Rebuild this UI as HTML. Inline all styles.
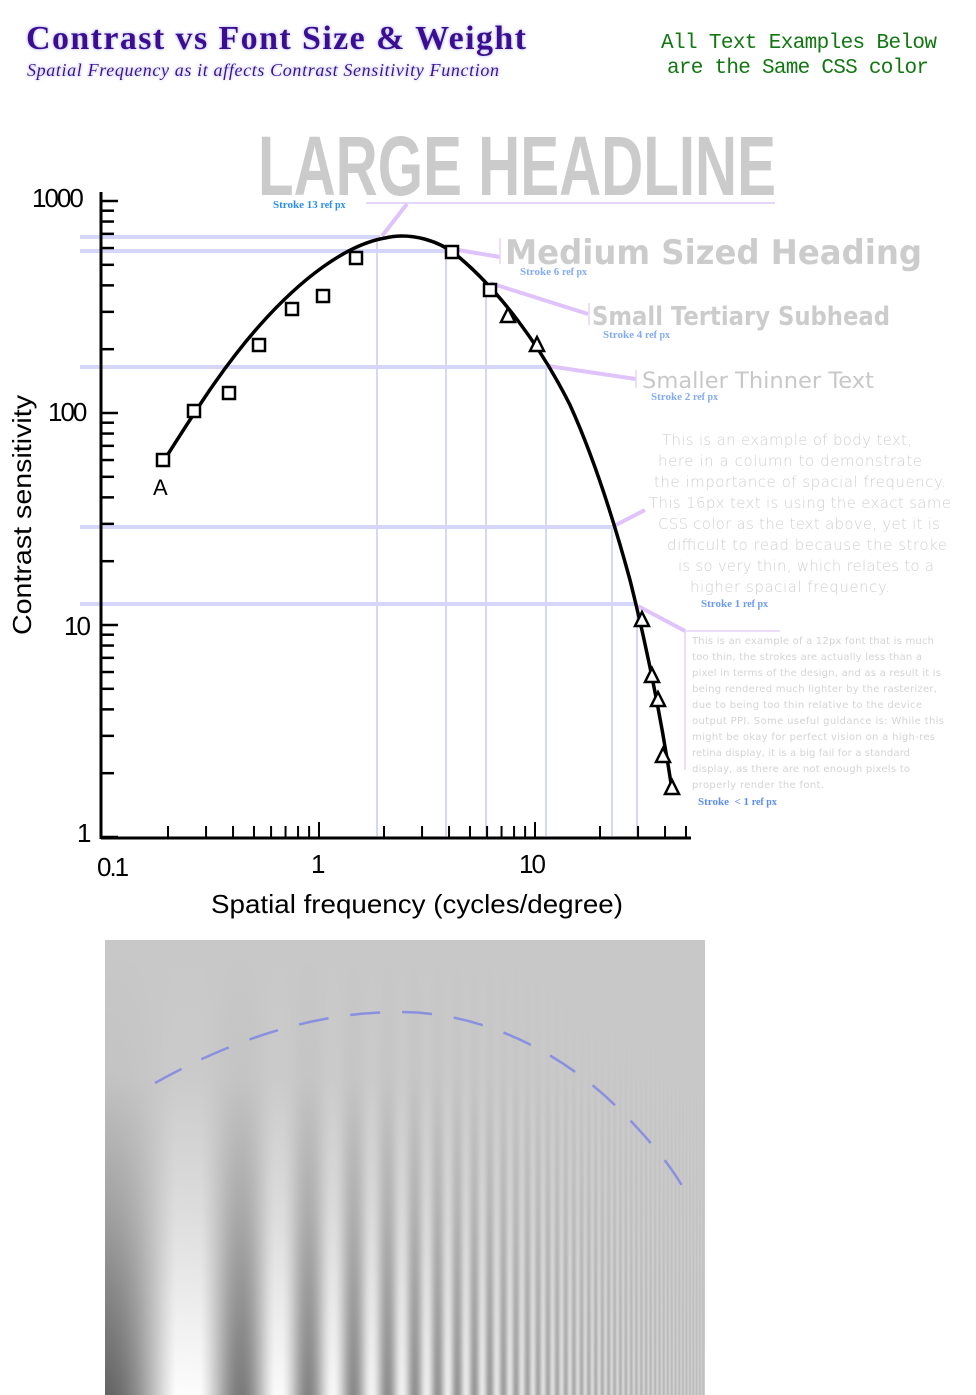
<!DOCTYPE html>
<html><head><meta charset="utf-8"><style>
html,body{margin:0;padding:0;background:#fff;}
body{width:976px;height:1395px;position:relative;overflow:hidden;font-family:"Liberation Sans",sans-serif;}
</style></head><body>
<svg id="s" width="976" height="1395" viewBox="0 0 976 1395" xmlns="http://www.w3.org/2000/svg" style="position:absolute;left:0;top:0">
<defs>
<filter id="sh" x="-5%" y="-20%" width="110%" height="160%"><feGaussianBlur in="SourceAlpha" stdDeviation="2"/><feOffset dx="2" dy="3"/><feFlood flood-color="#a8a8ff"/><feComposite operator="in" in2="SourceAlpha"/><feGaussianBlur stdDeviation="1.5"/><feMerge><feMergeNode/><feMergeNode in="SourceGraphic"/></feMerge></filter>
<linearGradient id="fade" x1="0" y1="0" x2="0" y2="1">
<stop offset="0" stop-color="#c8c8c8" stop-opacity="1"/>
<stop offset="0.3" stop-color="#c8c8c8" stop-opacity="0.95"/>
<stop offset="0.6" stop-color="#c8c8c8" stop-opacity="0.6"/>
<stop offset="1" stop-color="#c8c8c8" stop-opacity="0"/>
</linearGradient>
<linearGradient id="rfade" x1="0" y1="0" x2="1" y2="0">
<stop offset="0" stop-color="#c8c8c8" stop-opacity="0"/>
<stop offset="0.6" stop-color="#c8c8c8" stop-opacity="0.2"/>
<stop offset="1" stop-color="#c8c8c8" stop-opacity="0.75"/>
</linearGradient>
</defs>
<!-- header -->
<text x="26" y="49" font-family="Liberation Serif,serif" font-weight="bold" font-size="34" fill="#3d0a91" textLength="500" filter="url(#sh)">Contrast vs Font Size &amp; Weight</text>
<text x="27" y="76" font-family="Liberation Serif,serif" font-style="italic" font-size="18" fill="#3d0a91" textLength="472" filter="url(#sh)">Spatial Frequency as it affects Contrast Sensitivity Function</text>
<text x="661" y="48" font-family="Liberation Mono,monospace" font-size="21" fill="#117711" textLength="276">All Text Examples Below</text>
<text x="667" y="73" font-family="Liberation Mono,monospace" font-size="21" fill="#117711" textLength="262">are the Same CSS color</text>

<!-- gray headline -->
<text x="258" y="195" font-family="Liberation Sans Narrow,Liberation Sans,sans-serif" font-weight="bold" font-size="84" fill="#cbcbcb" textLength="518" lengthAdjust="spacingAndGlyphs">LARGE HEADLINE</text>
<line x1="366" y1="203" x2="775" y2="203" stroke="#dcc8f4" stroke-width="1.5"/>
<text x="273" y="208" font-family="Liberation Serif,serif" font-weight="bold" font-size="11" fill="#2a8cf0">Stroke 13 <tspan font-size="10">ref px</tspan></text>

<!-- lavender guide lines -->
<g stroke="#d6d6fa" stroke-width="4">
<line x1="80" y1="237" x2="380" y2="237"/>
<line x1="80" y1="251" x2="446" y2="251"/>
<line x1="80" y1="367" x2="548" y2="367"/>
<line x1="80" y1="527" x2="614" y2="527"/>
<line x1="80" y1="604" x2="638" y2="604"/>
</g>
<g stroke="#d6d6fa" stroke-width="2">
<line x1="377" y1="237" x2="377" y2="836"/>
<line x1="446" y1="251" x2="446" y2="836"/>
<line x1="486" y1="285" x2="486" y2="836"/>
<line x1="546" y1="367" x2="546" y2="836"/>
<line x1="612" y1="527" x2="612" y2="836"/>
<line x1="637" y1="604" x2="637" y2="836"/>
</g>
<!-- pink connectors -->
<g stroke="#dfc3fa" stroke-width="4" fill="none">
<line x1="382" y1="236" x2="407" y2="204"/>
<line x1="446" y1="248" x2="500" y2="257"/>
<line x1="490" y1="283" x2="588" y2="314"/>
<line x1="548" y1="366" x2="636" y2="379"/>
<line x1="614" y1="526" x2="645" y2="510"/>
<line x1="638" y1="606" x2="685" y2="631"/>
</g>
<g stroke="#e6d4fa" stroke-width="1.5">
<line x1="500" y1="238" x2="500" y2="264"/>
<line x1="589" y1="303" x2="589" y2="325"/>
<line x1="636" y1="370" x2="636" y2="388"/>
<line x1="685" y1="631" x2="685" y2="770"/>
<line x1="685" y1="631" x2="780" y2="631"/>
</g>

<!-- text samples -->
<text x="505" y="264" font-family="DejaVu Sans,sans-serif" font-weight="bold" font-size="34" fill="#cccccc" textLength="417" lengthAdjust="spacingAndGlyphs">Medium Sized Heading</text>
<text x="520" y="275" font-family="Liberation Serif,serif" font-weight="bold" font-size="11" fill="#82aaf5">Stroke 6 <tspan font-size="10">ref px</tspan></text>
<text x="592" y="325" font-family="DejaVu Sans,sans-serif" font-weight="bold" font-size="26" fill="#cccccc" textLength="298" lengthAdjust="spacingAndGlyphs">Small Tertiary Subhead</text>
<text x="603" y="338" font-family="Liberation Serif,serif" font-weight="bold" font-size="11" fill="#82aaf5">Stroke 4 <tspan font-size="10">ref px</tspan></text>
<text x="642" y="388" font-family="DejaVu Sans,sans-serif" font-size="22" fill="#c8c8c8" textLength="232" lengthAdjust="spacingAndGlyphs">Smaller Thinner Text</text>
<text x="651" y="400" font-family="Liberation Serif,serif" font-weight="bold" font-size="11" fill="#82aaf5">Stroke 2 <tspan font-size="10">ref px</tspan></text>

<g font-family="DejaVu Sans,sans-serif" font-size="15" fill="#d0d0d0" text-anchor="middle" font-weight="200">
<text x="787" y="445" textLength="250">This is an example of body text,</text>
<text x="790" y="466" textLength="264">here in a column to demonstrate</text>
<text x="800" y="487" textLength="292">the importance of spacial frequency.</text>
<text x="800" y="508" textLength="302">This 16px text is using the exact same</text>
<text x="799" y="529" textLength="282">CSS color as the text above, yet it is</text>
<text x="807" y="550" textLength="280">difficult to read because the stroke</text>
<text x="806" y="571" textLength="256">is so very thin, which relates to a</text>
<text x="790" y="592" textLength="200">higher spacial frequency.</text>
</g>
<text x="701" y="607" font-family="Liberation Serif,serif" font-weight="bold" font-size="11" fill="#6a9af5">Stroke 1 <tspan font-size="10">ref px</tspan></text>
<g font-family="DejaVu Sans,sans-serif" font-size="10" fill="#d4d4d4">
<text x="692" y="644" textLength="242">This is an example of a 12px font that is much</text>
<text x="692" y="660" textLength="230">too thin, the strokes are actually less than a</text>
<text x="692" y="676" textLength="249">pixel in terms of the design, and as a result it is</text>
<text x="692" y="692" textLength="245">being rendered much lighter by the rasterizer,</text>
<text x="692" y="708" textLength="230">due to being too thin relative to the device</text>
<text x="692" y="724" textLength="252">output PPI. Some useful guidance is: While this</text>
<text x="692" y="740" textLength="243">might be okay for perfect vision on a high-res</text>
<text x="692" y="756" textLength="218">retina display, it is a big fail for a standard</text>
<text x="692" y="772" textLength="218">display, as there are not enough pixels to</text>
<text x="692" y="788" textLength="132">properly render the font.</text>
</g>
<text x="698" y="805" font-family="Liberation Serif,serif" font-weight="bold" font-size="11" fill="#5a8cf5">Stroke &#160;&lt; 1 <tspan font-size="10">ref px</tspan></text>

<!-- axes -->
<g stroke="#000" fill="none">
<line x1="101" y1="192" x2="101" y2="839" stroke-width="3"/>
<line x1="101" y1="838" x2="691" y2="838" stroke-width="3"/>
<g id="yt" stroke-width="2.5"></g>
<g id="xt" stroke-width="2"></g>
</g>
<g font-family="Liberation Sans,sans-serif" font-size="26" fill="#000" letter-spacing="-2">
<text x="32" y="207">1000</text>
<text x="48" y="421">100</text>
<text x="64" y="635">10</text>
<text x="77" y="842">1</text>
<text x="97" y="876">0.1</text>
<text x="311" y="873">1</text>
<text x="519" y="873">10</text>
</g>
<text x="211" y="913" font-family="Liberation Sans,sans-serif" font-size="26" fill="#000" textLength="412" lengthAdjust="spacingAndGlyphs">Spatial frequency (cycles/degree)</text>
<text transform="translate(31,635) rotate(-90)" font-family="Liberation Sans,sans-serif" font-size="26" fill="#000" textLength="240" lengthAdjust="spacingAndGlyphs">Contrast sensitivity</text>
<text x="153" y="495" font-family="Liberation Sans,sans-serif" font-size="22" fill="#000">A</text>

<!-- curve -->
<path d="M163,462 C190,420 220,370 260,325 C300,280 345,245 385,238 C410,232 440,240 460,258 C500,292 540,345 570,405 C595,460 615,525 630,580 C645,640 660,710 672,790" fill="none" stroke="#000" stroke-width="3.5"/>
<g fill="#fff" stroke="#000" stroke-width="2.5" id="sq"></g>
<g fill="#fff" stroke="#000" stroke-width="2.5" id="tr"></g>

<!-- grating -->
<g id="grat"></g>
<rect x="105" y="940" width="600" height="455" fill="url(#fade)"/>
<rect x="105" y="940" width="600" height="455" fill="url(#rfade)"/>
<path d="M155,1083 C250,1030 330,1012 400,1012 C480,1012 560,1050 620,1110 C650,1140 675,1170 690,1200" fill="none" stroke="#7a82e6" stroke-width="2.5" stroke-dasharray="30,22" opacity="0.8"/>
</svg>
<script>
var NS="http://www.w3.org/2000/svg";
function el(p,t,a){var e=document.createElementNS(NS,t);for(var k in a)e.setAttribute(k,a[k]);document.getElementById(p).appendChild(e);}
for(var d=0;d<3;d++){for(var m=1;m<=9;m++){var v=Math.pow(10,d)*m;var y=837-212*Math.log10(v);el("yt","line",{x1:101,y1:y,x2:m==1?118:114,y2:y});}}
el("yt","line",{x1:101,y1:201,x2:118,y2:201});
for(var d=-1;d<2;d++){for(var m=1;m<=9;m++){if(d==-1&&m==1)continue;var v=Math.pow(10,d)*m;var x=103+216*(Math.log10(v)+1);if(x>690)break;el("xt","line",{x1:x,y1:838,x2:x,y2:m==1?822:826});}}
var sq=[[163,460],[194,411],[229,393],[259,345],[292,309],[323,296],[356,258],[452,252],[490,290]];
sq.forEach(function(p){el("sq","rect",{x:p[0]-6,y:p[1]-6,width:12,height:12});});
var tr=[[508,316],[537,345],[642,620],[652,676],[658,700],[663,756],[672,788]];
tr.forEach(function(p){el("tr","path",{d:"M"+p[0]+","+(p[1]-8)+" L"+(p[0]+7)+","+(p[1]+6)+" L"+(p[0]-7)+","+(p[1]+6)+" Z"});});
var k=0.0072,f0=1/230,g=document.getElementById("grat");
for(var i=0;i<600;i++){var ph=2*Math.PI*f0*(Math.exp(k*i)-1)/k;var c=Math.cos(ph);var amp=90*Math.exp(-i/650);var L=Math.round(190-amp*c);L=Math.max(0,Math.min(255,L));
var r=document.createElementNS(NS,"rect");r.setAttribute("x",105+i);r.setAttribute("y",940);r.setAttribute("width",1.05);r.setAttribute("height",455);r.setAttribute("fill","rgb("+L+","+L+","+L+")");g.appendChild(r);}
</script>
</body></html>
